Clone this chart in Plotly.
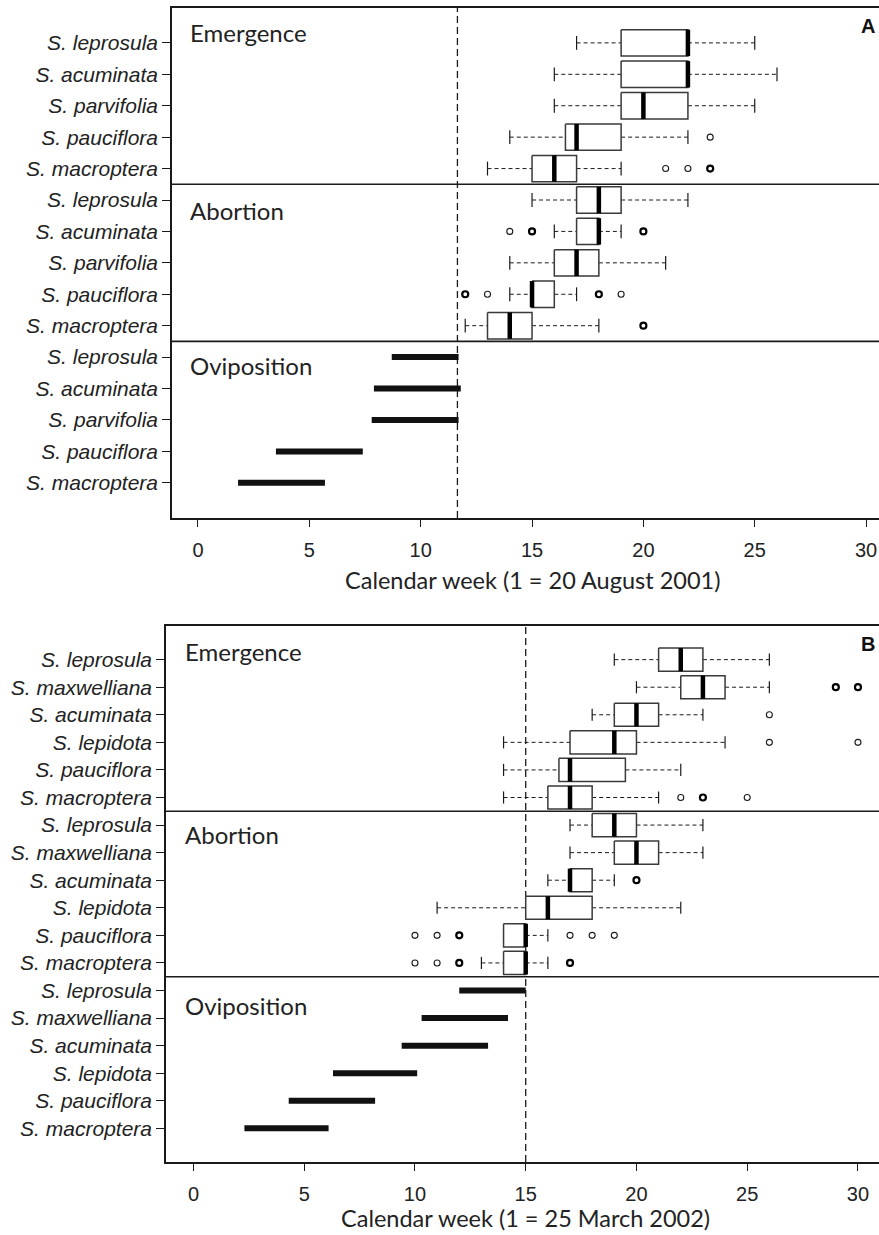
import plotly.graph_objects as go

W, H = 879, 1235

# ---------------- Panel A data (weeks; 1 = 20 August 2001) ----------------
a_species = ["S. leprosula", "S. acuminata", "S. parvifolia", "S. pauciflora", "S. macroptera"]

a_emerg_lo  = [17, 16, 16, 14, 13]
a_emerg_q1  = [19, 19, 19, 16.5, 15]
a_emerg_med = [22, 22, 20, 17, 16]
a_emerg_q3  = [22, 22, 22, 19, 17]
a_emerg_hi  = [25, 26, 25, 22, 19]
a_emerg_out = [[], [], [], [(23, 1)], [(21, 1), (22, 1), (23, 3)]]

a_abort_lo  = [15, 16, 14, 14, 12]
a_abort_q1  = [17, 17, 16, 15, 13]
a_abort_med = [18, 18, 17, 15, 14]
a_abort_q3  = [19, 18, 18, 16, 15]
a_abort_hi  = [22, 19, 21, 17, 18]
a_abort_out = [[], [(14, 1), (15, 2), (20, 2)], [], [(12, 3), (13, 1), (18, 2), (19, 1)], [(20, 2)]]

a_ovi_start = [8.7, 7.9, 7.8, 3.5, 1.8]
a_ovi_end   = [11.7, 11.8, 11.7, 7.4, 5.7]
a_vline = 11.65

# ---------------- Panel B data (weeks; 1 = 25 March 2002) ----------------
b_species = ["S. leprosula", "S. maxwelliana", "S. acuminata", "S. lepidota", "S. pauciflora", "S. macroptera"]

b_emerg_lo  = [19, 20, 18, 14, 14, 14]
b_emerg_q1  = [21, 22, 19, 17, 16.5, 16]
b_emerg_med = [22, 23, 20, 19, 17, 17]
b_emerg_q3  = [23, 24, 21, 20, 19.5, 18]
b_emerg_hi  = [26, 26, 23, 24, 22, 21]
b_emerg_out = [[], [(29, 2), (30, 2)], [(26, 1)], [(26, 1), (30, 1)], [], [(22, 1), (23, 2), (25, 1)]]

b_abort_lo  = [17, 17, 16, 11, 14, 13]
b_abort_q1  = [18, 19, 17, 15, 14, 14]
b_abort_med = [19, 20, 17, 16, 15, 15]
b_abort_q3  = [20, 21, 18, 18, 15, 15]
b_abort_hi  = [23, 23, 19, 22, 16, 16]
b_abort_out = [[], [], [(20, 2)], [], [(10, 1), (11, 1), (12, 2), (17, 1), (18, 1), (19, 1)],
               [(10, 1), (11, 1), (12, 3), (17, 2)]]

b_ovi_start = [12.0, 10.3, 9.4, 6.3, 4.3, 2.3]
b_ovi_end   = [15.0, 14.2, 13.3, 10.1, 8.2, 6.1]
b_vline = 15.0

x_ticks = [0, 5, 10, 15, 20, 25, 30]
group_names = ["Emergence", "Abortion", "Oviposition"]

# ---------------- styling ----------------
INK = "#1a1a1a"
BOX_LINE = "#3a3a3a"
BOX_HALF = 0.42
STAPLE_HALF = 0.22
TICK_FONT = "Liberation Sans, Arial, sans-serif"
LABEL_FONT = "Lato, Carlito, Calibri, sans-serif"

fig = go.Figure()


def add_panel(species, boxsets, ovi_start, ovi_end, vline, xa, ya):
    n = len(species)
    wx, wy, sx, sy, bx, by, mx, my = [], [], [], [], [], [], [], []
    o1x, o1y, o2x, o2y = [], [], [], []
    for g, (lo, q1, med, q3, hi, outs) in enumerate(boxsets):
        for i in range(n):
            r = g * n + i + 1
            if lo[i] < q1[i]:
                wx += [lo[i], q1[i], None]
                wy += [r, r, None]
            if hi[i] > q3[i]:
                wx += [q3[i], hi[i], None]
                wy += [r, r, None]
            for v in (lo[i], hi[i]):
                sx += [v, v, None]
                sy += [r - STAPLE_HALF, r + STAPLE_HALF, None]
            bx += [q1[i], q3[i], q3[i], q1[i], q1[i], None]
            by += [r - BOX_HALF, r - BOX_HALF, r + BOX_HALF, r + BOX_HALF, r - BOX_HALF, None]
            mx += [med[i], med[i], None]
            my += [r - BOX_HALF, r + BOX_HALF, None]
            for v, c in outs[i]:
                if c > 1:
                    o2x.append(v); o2y.append(r)
                else:
                    o1x.append(v); o1y.append(r)
    common = dict(xaxis=xa, yaxis=ya, showlegend=False, hoverinfo="skip")
    fig.add_trace(go.Scatter(x=wx, y=wy, mode="lines",
                             line=dict(color=INK, width=1, dash="4px,3px"), **common))
    fig.add_trace(go.Scatter(x=sx, y=sy, mode="lines",
                             line=dict(color=INK, width=1.2), **common))
    fig.add_trace(go.Scatter(x=bx, y=by, mode="lines", fill="toself", fillcolor="white",
                             line=dict(color=BOX_LINE, width=1.5), **common))
    fig.add_trace(go.Scatter(x=mx, y=my, mode="lines",
                             line=dict(color="black", width=4.5), **common))
    fig.add_trace(go.Scatter(x=o1x, y=o1y, mode="markers",
                             marker=dict(symbol="circle-open", size=6, color=INK, line=dict(width=1.1)),
                             **common))
    fig.add_trace(go.Scatter(x=o2x, y=o2y, mode="markers",
                             marker=dict(symbol="circle-open", size=6, color="black", line=dict(width=2.2)),
                             **common))
    ox, oy = [], []
    for i in range(n):
        r = 2 * n + i + 1
        ox += [ovi_start[i], ovi_end[i], None]
        oy += [r, r, None]
    fig.add_trace(go.Scatter(x=ox, y=oy, mode="lines",
                             line=dict(color="#111111", width=6), **common))
    fig.add_shape(type="line", xref=xa, yref=ya + " domain", x0=vline, x1=vline, y0=0, y1=1,
                  line=dict(color=INK, width=1.3, dash="7px,4px"), layer="below")
    for g in (1, 2):
        fig.add_shape(type="line", xref=xa + " domain", yref=ya, x0=0, x1=1,
                      y0=g * n + 0.5, y1=g * n + 0.5,
                      line=dict(color=INK, width=1.6), layer="above")


add_panel(a_species,
          [(a_emerg_lo, a_emerg_q1, a_emerg_med, a_emerg_q3, a_emerg_hi, a_emerg_out),
           (a_abort_lo, a_abort_q1, a_abort_med, a_abort_q3, a_abort_hi, a_abort_out)],
          a_ovi_start, a_ovi_end, a_vline, "x", "y")
add_panel(b_species,
          [(b_emerg_lo, b_emerg_q1, b_emerg_med, b_emerg_q3, b_emerg_hi, b_emerg_out),
           (b_abort_lo, b_abort_q1, b_abort_med, b_abort_q3, b_abort_hi, b_abort_out)],
          b_ovi_start, b_ovi_end, b_vline, "x2", "y2")


def px_y(p):
    return 1 - p / H


nA, nB = len(a_species), len(b_species)

xcommon = dict(tickvals=x_ticks, ticks="outside", ticklen=7, tickwidth=1.3, tickcolor=INK,
               showline=True, linewidth=1.6, linecolor=INK, mirror=True,
               showgrid=False, zeroline=False, automargin=False,
               tickfont=dict(family=TICK_FONT, size=20, color="#222"), ticklabelstandoff=6)
ycommon = dict(ticks="outside", ticklen=8, tickwidth=1.3, tickcolor=INK,
               showline=True, linewidth=1.6, linecolor=INK,
               showgrid=False, zeroline=False, automargin=False,
               tickfont=dict(family=TICK_FONT, size=21, color="#222", style="italic"))

fig.update_layout(
    width=W, height=H, margin=dict(l=0, r=0, t=0, b=0),
    plot_bgcolor="white", paper_bgcolor="white",
    xaxis=dict(domain=[172 / W, 1], range=[-1.167, 30.58], anchor="y", **xcommon),
    yaxis=dict(domain=[px_y(518), px_y(8)], range=[nA * 3 + 1.12, -0.11], anchor="x",
               tickvals=list(range(1, 3 * nA + 1)), ticktext=a_species * 3, **ycommon),
    xaxis2=dict(domain=[166 / W, 1], range=[-1.24, 30.95], anchor="y2", **xcommon),
    yaxis2=dict(domain=[px_y(1162), px_y(626)], range=[nB * 3 + 1.22, -0.22], anchor="x2",
                tickvals=list(range(1, 3 * nB + 1)), ticktext=b_species * 3, **ycommon),
)

ann = []
for name, yp in zip(group_names, [33, 210, 365]):
    ann.append(dict(text=name, x=188 / W, y=px_y(yp), xref="paper", yref="paper",
                    xanchor="left", yanchor="middle", showarrow=False,
                    font=dict(family=LABEL_FONT, size=24, color="#222")))
for name, yp in zip(group_names, [651, 834, 1005]):
    ann.append(dict(text=name, x=183 / W, y=px_y(yp), xref="paper", yref="paper",
                    xanchor="left", yanchor="middle", showarrow=False,
                    font=dict(family=LABEL_FONT, size=24, color="#222")))
ann.append(dict(text="<b>A</b>", x=877 / W, y=px_y(26), xref="paper", yref="paper",
                xanchor="right", yanchor="middle", showarrow=False,
                font=dict(family=TICK_FONT, size=20, color="#111")))
ann.append(dict(text="<b>B</b>", x=877 / W, y=px_y(644), xref="paper", yref="paper",
                xanchor="right", yanchor="middle", showarrow=False,
                font=dict(family=TICK_FONT, size=20, color="#111")))
ann.append(dict(text="Calendar week (1 = 20 August 2001)", x=(198 + 866) / 2 / W, y=px_y(580),
                xref="paper", yref="paper", xanchor="center", yanchor="middle", showarrow=False,
                font=dict(family=LABEL_FONT, size=23.5, color="#222")))
ann.append(dict(text="Calendar week (1 = 25 March 2002)", x=(193.5 + 858) / 2 / W, y=px_y(1218),
                xref="paper", yref="paper", xanchor="center", yanchor="middle", showarrow=False,
                font=dict(family=LABEL_FONT, size=23.5, color="#222")))
fig.update_layout(annotations=ann)

fig.write_html("out.html", config={"displayModeBar": False},
               post_script="document.body.style.margin='0';document.body.style.overflow='hidden';")
